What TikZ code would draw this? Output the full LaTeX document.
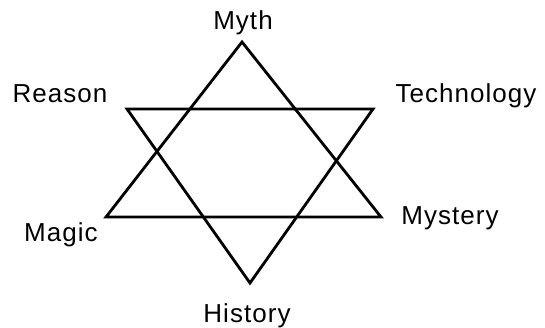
\documentclass[tikz,border=0pt]{standalone}
\usepackage{fontspec}
\setmainfont{Liberation Sans}[LetterSpace=4]
\begin{document}
\begin{tikzpicture}[x=1pt,y=-1pt,
  edge/.style={line width=2.8pt, line join=miter, black},
  lbl/.style={anchor=base, inner sep=0pt, font=\fontsize{26}{26}\selectfont}]
\useasboundingbox (0,0) rectangle (545,328);
% up triangle
\coordinate (ut) at (242,42);
\coordinate (ul) at (106,217);
\coordinate (ur) at (381,217);
% down triangle
\coordinate (dl) at (127,109);
\coordinate (dr) at (373,109);
\coordinate (db) at (250,283);
\draw[edge] (ut) -- (ul) -- (ur) -- cycle;
\draw[edge] (dl) -- (dr) -- (db) -- cycle;
\node[lbl] (myth) at (243,30) {Myth};
\node[lbl] (reason) at (60,103) {Reason};
\node[lbl] (tech) at (466,103) {Technology};
\node[lbl] (magic) at (61,242) {Magic};
\node[lbl] (mystery) at (450,225) {Mystery};
\node[lbl] (history) at (247,322) {History};
\end{tikzpicture}
\end{document}
